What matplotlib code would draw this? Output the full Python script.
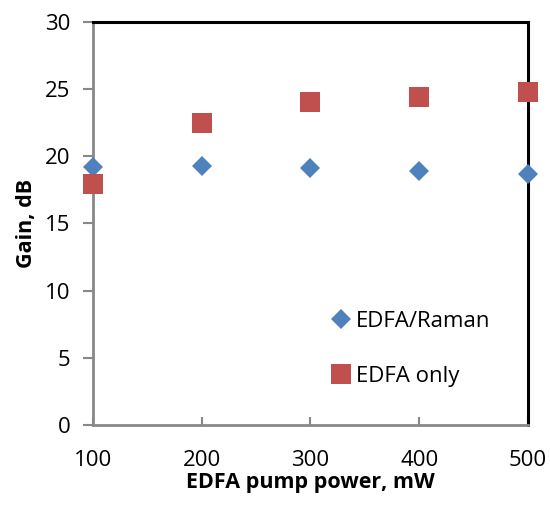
import matplotlib
matplotlib.use("Agg")
import matplotlib.pyplot as plt

pump_power = [100, 200, 300, 400, 500]
gain_edfa_raman = [19.2, 19.3, 19.1, 18.9, 18.7]
gain_edfa_only = [17.9, 22.5, 24.0, 24.4, 24.8]
x_ticks = [100, 200, 300, 400, 500]
y_ticks = [0, 5, 10, 15, 20, 25, 30]

plt.rcParams['font.family'] = ['Open Sans', 'DejaVu Sans']

fig = plt.figure(figsize=(5.5, 5.07), dpi=100)
ax = fig.add_axes([0.169, 0.162, 0.791, 0.795])

ax.plot(pump_power, gain_edfa_raman, linestyle='none', marker='D', markersize=10.2,
        color='#4F81BD', markeredgewidth=0, label='EDFA/Raman', clip_on=False, zorder=5)
ax.plot(pump_power, gain_edfa_only, linestyle='none', marker='s', markersize=14.4,
        color='#C0504D', markeredgewidth=0, label='EDFA only', clip_on=False, zorder=5)

ax.set_xlim(100, 500)
ax.set_ylim(0, 30)
ax.set_xticks(x_ticks)
ax.set_yticks(y_ticks)
ax.tick_params(axis='y', direction='out', length=7, width=1.5, color='#888888',
               labelsize=16, pad=9)
ax.tick_params(axis='x', direction='in', length=6, width=1.5, color='#888888',
               labelsize=16, pad=18)

for s in ['left', 'bottom']:
    ax.spines[s].set_color('#888888')
    ax.spines[s].set_linewidth(2)
for s in ['top', 'right']:
    ax.spines[s].set_color('black')
    ax.spines[s].set_linewidth(2.2)

ax.set_xlabel('EDFA pump power, mW', fontsize=15.5, fontweight='bold', labelpad=1)
ax.set_ylabel('Gain, dB', fontsize=15.5, fontweight='bold', labelpad=6)

ax.legend(loc='center left', bbox_to_anchor=(0.544, 0.1886), frameon=False,
          fontsize=16, handlelength=1, handletextpad=0.2, labelspacing=1.5,
          borderpad=0, borderaxespad=0)

fig.savefig('out.png', dpi=100)
